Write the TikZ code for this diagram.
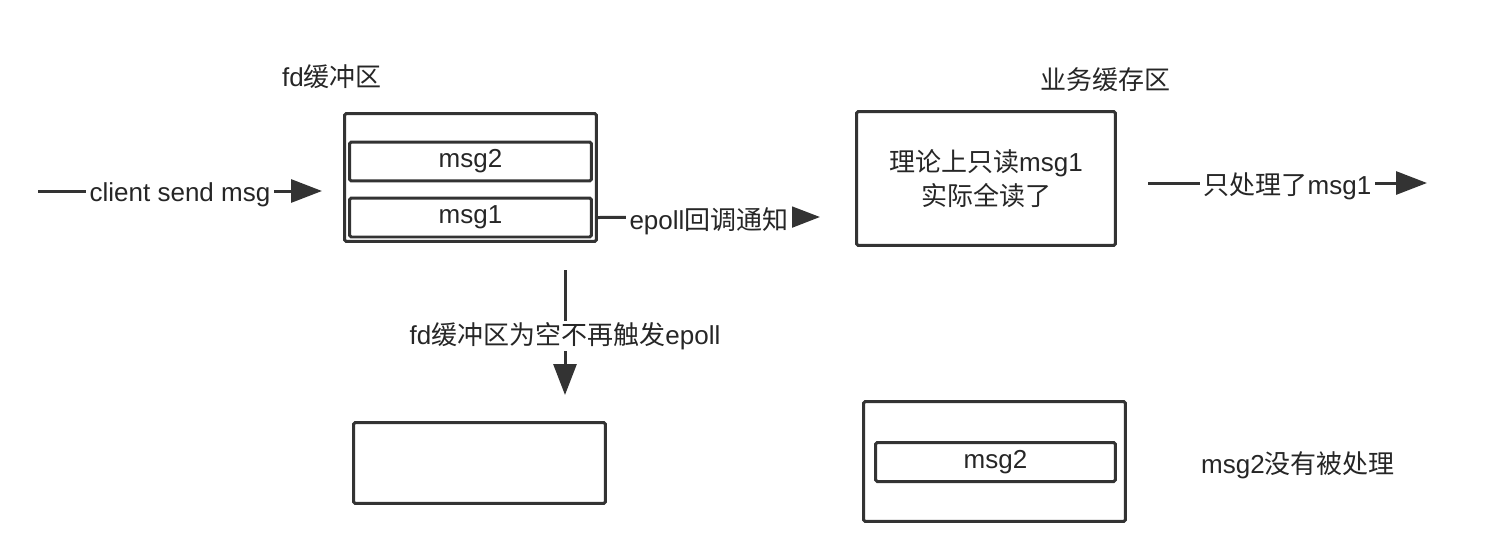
\documentclass[tikz,border=0pt]{standalone}
\usepackage{fontspec}
\setmainfont{Liberation Sans}
\newfontfamily\cjk{Noto Sans CJK SC}
\newcommand{\zh}[1]{{\cjk #1}}
\usetikzlibrary{arrows.meta,positioning}
\definecolor{ink}{HTML}{333333}
\tikzset{
  buf/.style={draw=ink, line width=0.06cm, rounded corners=1pt, inner sep=0pt, align=center},
  flow/.style={draw=ink, line width=0.06cm, -{Triangle[length=0.62cm,width=0.46cm]}},
  lbl/.style={fill=white, inner xsep=2pt, inner ysep=1pt, yshift=-2pt},
}
\begin{document}
\begin{tikzpicture}[x=0.02cm, y=-0.02cm, font=\fontsize{14.8}{19.3}\selectfont, text=black!85]
\useasboundingbox (0,0) rectangle (1512,548);

% fd buffer
\node[buf, minimum width=5.04cm, minimum height=2.56cm] (fdbox) at (470.5,177.5) {};
\node[buf, minimum width=4.84cm, minimum height=0.78cm] (msgtwo) at (470.5,161.5) {msg2};
\node[buf, minimum width=4.84cm, minimum height=0.78cm] (msgone) at (470.5,217.5) {msg1};
\node (fdtitle) at (332,77) {fd\zh{缓冲区}};

% business buffer
\node[buf, minimum width=5.18cm, minimum height=2.68cm] (bizbox) at (986,178.5) {\zh{理论上只读}msg1\\\zh{实际全读了}};
\node (biztitle) at (1105,80) {\zh{业务缓存区}};

% after
\node[buf, minimum width=5.04cm, minimum height=1.62cm] (emptybox) at (479.5,463) {};
\node[buf, minimum width=5.24cm, minimum height=2.40cm] (leftbox) at (994.5,461.5) {};
\node[buf, minimum width=4.80cm, minimum height=0.78cm] (msgleft) at (995.5,462) {msg2};
\node (note) at (1298,465) {msg2\zh{没有被处理}};

\coordinate (clientstart) at (38,191);
\coordinate (clientend) at (322,191);
\coordinate (epollend) at (820,217);
\coordinate (outstart) at (1148,183);
\coordinate (outend) at (1427,183);
\coordinate (downstart) at (565,270);
\coordinate (downend) at (565,395);

\draw[flow] (clientstart) -- node[lbl]{client send msg} (clientend);
\draw[flow] (fdbox.east |- msgone) -- node[lbl]{epoll\zh{回调通知}} (epollend);
\draw[flow] (outstart) -- node[lbl]{\zh{只处理了}msg1} (outend);
\draw[flow] (downstart) -- node[lbl]{fd\zh{缓冲区为空不再触发}epoll} (downend);
\end{tikzpicture}
\end{document}
